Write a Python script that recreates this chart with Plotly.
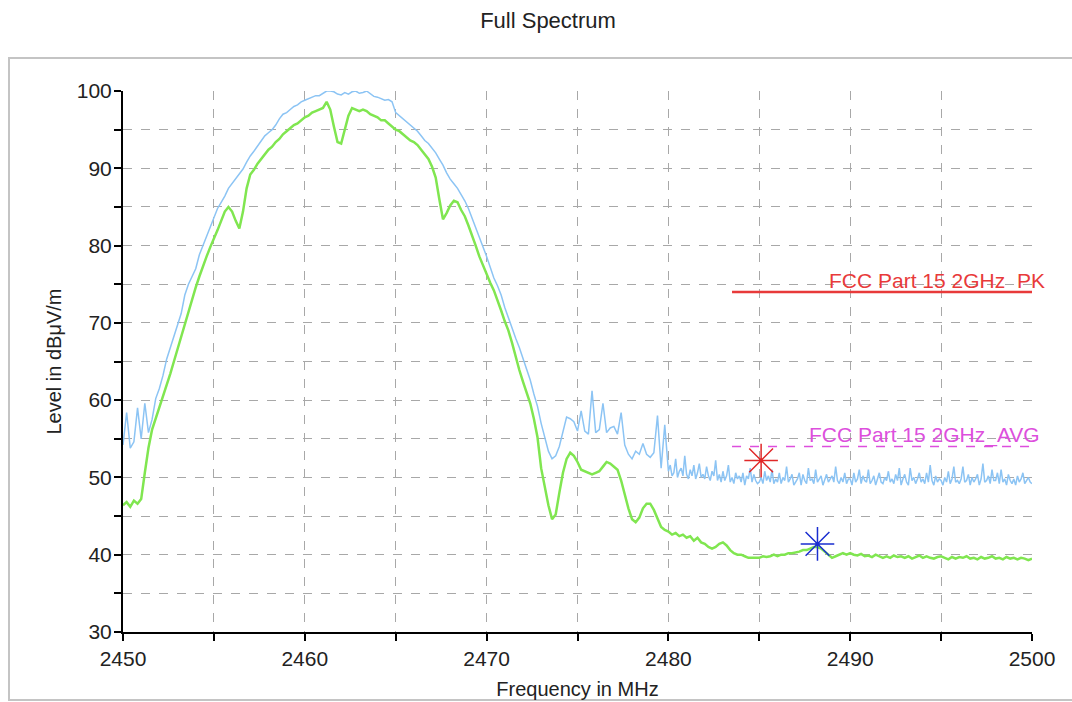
import numpy as np
import plotly.graph_objects as go

# ---------------- data ----------------
# peak trace (light blue), 0.2 MHz steps from 2450.0 to 2479.8 (rows = 1 MHz)
peak_level_main = [
    54.2, 58.4, 53.8, 54.6, 59.0,   # 2450
    55.0, 59.6, 55.8, 57.5, 60.2,   # 2451
    61.5, 63.2, 65.3, 66.8, 68.2,   # 2452
    69.8, 71.2, 73.6, 75.0, 76.0,   # 2453
    77.0, 78.8, 80.0, 81.4, 82.6,   # 2454
    83.8, 84.8, 85.6, 86.4, 87.4,   # 2455
    88.0, 88.6, 89.2, 89.9, 90.8,   # 2456
    91.6, 92.2, 92.9, 93.6, 94.2,   # 2457
    94.6, 95.0, 95.6, 96.4, 97.0,   # 2458
    97.2, 97.6, 98.0, 98.2, 98.6,   # 2459
    98.8, 99.0, 99.2, 99.4, 99.4,   # 2460
    99.7, 100.0, 100.0, 99.9, 99.6, # 2461
    99.5, 99.8, 99.6, 99.9, 100.0,  # 2462
    99.7, 99.8, 100.0, 99.6, 99.3,  # 2463
    99.2, 99.0, 98.8, 98.9, 98.6,   # 2464
    97.2, 96.8, 96.4, 96.0, 95.6,   # 2465
    95.2, 94.8, 94.2, 93.6, 93.2,   # 2466
    92.6, 92.0, 91.2, 90.4, 89.4,   # 2467
    88.6, 88.0, 87.4, 86.6, 85.8,   # 2468
    84.8, 83.6, 82.4, 81.2, 79.8,   # 2469
    78.6, 77.2, 75.8, 74.8, 73.6,   # 2470
    72.0, 70.6, 69.2, 68.0, 66.8,   # 2471
    65.4, 64.2, 62.6, 60.8, 59.2,   # 2472
    57.0, 55.0, 53.4, 52.4, 52.8,   # 2473
    54.0, 56.0, 57.8, 57.6, 57.2,   # 2474
    56.0, 58.6, 56.0, 55.6, 61.2,   # 2475
    55.8, 56.2, 59.6, 55.8, 56.4,   # 2476
    56.6, 55.6, 58.4, 54.2, 53.0,   # 2477
    52.4, 53.4, 53.0, 54.4, 53.0,   # 2478
    52.6, 53.2, 58.0, 51.2, 56.8,   # 2479
]
# peak trace tail, 0.1 MHz steps from 2480.0 to 2500.0 (rows = 1 MHz)
peak_level_tail = [
    50.8, 51.6, 50.2, 50.6, 52.4, 50.0, 50.8, 51.2, 50.2, 52.8,   # 2480
    50.4, 49.8, 51.0, 50.2, 51.6, 49.8, 50.6, 51.8, 50.0, 50.4,   # 2481
    49.8, 51.4, 50.2, 49.6, 50.8, 50.2, 52.2, 49.6, 50.4, 49.4,   # 2482
    50.8, 49.6, 50.2, 51.6, 49.4, 50.0, 49.2, 50.6, 49.8, 50.2,   # 2483
    49.4, 50.6, 49.0, 50.2, 49.8, 51.2, 49.4, 50.4, 49.6, 49.2,   # 2484
    49.4, 50.0, 49.2, 50.8, 49.6, 50.2, 49.4, 51.0, 49.2, 49.8,   # 2485
    49.4, 50.6, 49.2, 50.0, 49.6, 51.4, 49.4, 49.8, 50.4, 49.0,   # 2486
    49.4, 49.8, 50.6, 49.0, 50.4, 49.6, 49.2, 51.2, 49.6, 49.8,   # 2487
    49.2, 51.0, 49.4, 49.8, 50.2, 49.0, 49.6, 50.4, 49.4, 49.8,   # 2488
    50.2, 49.4, 51.4, 49.6, 49.2, 50.0, 49.4, 50.6, 49.2, 49.8,   # 2489
    49.8, 49.0, 50.6, 49.4, 49.8, 51.0, 49.2, 50.2, 49.6, 49.4,   # 2490
    51.0, 49.2, 49.6, 50.2, 49.0, 49.8, 50.6, 49.4, 49.2, 50.0,   # 2491
    49.6, 50.8, 49.4, 49.8, 49.2, 50.4, 49.6, 51.2, 49.0, 49.8,   # 2492
    50.4, 49.4, 49.0, 51.2, 49.6, 50.0, 49.2, 49.8, 50.6, 49.4,   # 2493
    49.8, 49.2, 50.6, 49.4, 51.6, 49.6, 49.0, 50.2, 49.4, 49.8,   # 2494
    49.6, 49.0, 50.0, 49.4, 50.8, 49.2, 49.8, 51.4, 49.4, 49.6,   # 2495
    49.2, 49.8, 51.4, 49.4, 49.6, 50.4, 49.0, 50.0, 49.4, 49.8,   # 2496
    50.4, 49.0, 49.8, 51.8, 49.4, 49.6, 50.2, 49.2, 51.0, 49.6,   # 2497
    49.6, 50.6, 49.2, 51.0, 49.4, 49.8, 49.0, 50.4, 49.6, 49.2,   # 2498
    49.8, 49.0, 50.2, 49.4, 49.8, 50.6, 49.2, 49.6, 50.0, 49.4,   # 2499
    49.2,                                                         # 2500
]

# average trace (green), 0.2 MHz steps from 2450.0 to 2500.0
avg_level = [
    46.4, 46.8, 46.2, 47.0, 46.6,   # 2450
    47.2, 50.6, 53.8, 56.2, 57.6,   # 2451
    59.0, 60.4, 62.0, 63.4, 65.0,   # 2452
    66.6, 68.2, 70.0, 71.4, 73.0,   # 2453
    74.6, 76.0, 77.4, 78.6, 79.8,   # 2454
    80.8, 82.0, 83.2, 84.4, 85.0,   # 2455
    84.4, 83.2, 82.2, 84.4, 87.4,   # 2456
    89.2, 89.8, 90.6, 91.2, 91.8,   # 2457
    92.4, 92.8, 93.4, 93.8, 94.4,   # 2458
    94.8, 95.2, 95.6, 95.8, 96.2,   # 2459
    96.6, 96.8, 97.2, 97.4, 97.6,   # 2460
    97.8, 98.6, 97.6, 95.4, 93.4,   # 2461
    93.2, 95.0, 96.8, 97.8, 97.6,   # 2462
    97.4, 97.6, 97.4, 97.0, 96.8,   # 2463
    96.6, 96.2, 96.2, 95.8, 95.4,   # 2464
    95.0, 94.8, 94.4, 94.0, 93.6,   # 2465
    93.4, 93.0, 92.4, 91.8, 91.2,   # 2466
    90.2, 88.8, 86.0, 83.4, 84.2,   # 2467
    85.2, 85.8, 85.6, 84.6, 83.8,   # 2468
    82.6, 81.4, 80.0, 78.6, 77.4,   # 2469
    76.2, 75.2, 74.2, 73.0, 71.6,   # 2470
    70.2, 69.0, 67.4, 65.6, 63.9,   # 2471
    62.4, 61.0, 59.6, 57.6, 55.2,   # 2472
    51.2, 48.6, 46.4, 44.6, 45.2,   # 2473
    48.0, 50.6, 52.4, 53.2, 52.8,   # 2474
    52.0, 51.0, 50.8, 50.6, 50.4,   # 2475
    50.6, 50.8, 51.4, 52.0, 51.8,   # 2476
    51.4, 51.0, 49.6, 47.8, 46.0,   # 2477
    44.6, 44.2, 44.8, 46.0, 46.6,   # 2478
    46.6, 45.8, 44.6, 43.6, 43.2,   # 2479
    43.0, 42.6, 42.8, 42.4, 42.6,   # 2480
    42.2, 42.4, 41.8, 42.2, 41.6,   # 2481
    41.4, 41.0, 40.8, 41.0, 41.4,   # 2482
    41.6, 41.2, 40.6, 40.2, 40.0,   # 2483
    40.0, 39.8, 39.6, 39.6, 39.6,   # 2484
    39.6, 39.8, 39.7, 39.8, 40.0,   # 2485
    39.8, 40.0, 40.0, 40.2, 40.2,   # 2486
    40.3, 40.4, 40.6, 40.6, 40.8,   # 2487
    41.0, 41.0, 40.8, 40.4, 40.0,   # 2488
    39.6, 39.8, 40.0, 40.2, 40.0,   # 2489
    40.2, 40.0, 39.9, 40.1, 39.8,   # 2490
    39.9, 39.7, 40.0, 39.8, 39.6,   # 2491
    39.8, 39.6, 39.9, 39.7, 39.8,   # 2492
    39.6, 39.8, 39.5, 39.7, 39.9,   # 2493
    39.6, 39.8, 39.6, 39.5, 39.7,   # 2494
    39.8, 39.6, 39.4, 39.7, 39.5,   # 2495
    39.7, 39.6, 39.8, 39.5, 39.6,   # 2496
    39.4, 39.7, 39.5, 39.6, 39.8,   # 2497
    39.5, 39.6, 39.4, 39.7, 39.5,   # 2498
    39.6, 39.4, 39.6, 39.5, 39.3,   # 2499
    39.5,                           # 2500
]

freq_start, freq_tail, freq_stop = 2450.0, 2480.0, 2500.0
freq_peak = np.concatenate([
    np.linspace(freq_start, freq_tail - 0.2, len(peak_level_main)),
    np.linspace(freq_tail, freq_stop, len(peak_level_tail)),
])
peak_level = peak_level_main + peak_level_tail
freq_avg = np.linspace(freq_start, freq_stop, len(avg_level))

# limit lines
limit_freq = [2483.5, 2500.0]
limit_pk = [74.0, 74.0]
limit_avg = [54.0, 54.0]
limit_pk_name = "FCC Part 15 2GHz_PK"
limit_avg_name = "FCC Part 15 2GHz_AVG"

# markers
peak_marker_f = [2485.1]
peak_marker_l = [52.2]
avg_marker_f = [2488.2]
avg_marker_l = [41.4]

# axes
x_ticks = [2450, 2455, 2460, 2465, 2470, 2475, 2480, 2485, 2490, 2495, 2500]
x_ticktext = ["2450", "", "2460", "", "2470", "", "2480", "", "2490", "", "2500"]
y_ticks = [30, 35, 40, 45, 50, 55, 60, 65, 70, 75, 80, 85, 90, 95, 100]
y_ticktext = ["30", "", "40", "", "50", "", "60", "", "70", "", "80", "", "90", "", "100"]

# ---------------- figure ----------------
FONT = "Liberation Sans, Arial, sans-serif"
RED = "#e02828"
BLUE = "#1a2ed0"
MAG = "#dd4fdd"
fig = go.Figure()

fig.add_trace(go.Scatter(x=freq_peak, y=peak_level, mode="lines",
                         line=dict(color="#8cc4f4", width=1.5)))
fig.add_trace(go.Scatter(x=freq_avg, y=avg_level, mode="lines",
                         line=dict(color="#80e650", width=2.5)))
fig.add_trace(go.Scatter(x=limit_freq, y=limit_pk, mode="lines",
                         line=dict(color="#e83a3a", width=2.5)))
fig.add_trace(go.Scatter(x=limit_freq, y=limit_avg, mode="lines",
                         line=dict(color=MAG, width=1.5, dash="dash")))
fig.add_trace(go.Scatter(x=peak_marker_f, y=peak_marker_l, mode="markers",
                         marker=dict(symbol="asterisk-open", size=28, color=RED,
                                     line=dict(color=RED, width=1.5)),
                         cliponaxis=False))
fig.add_trace(go.Scatter(x=avg_marker_f, y=avg_marker_l, mode="markers",
                         marker=dict(symbol="asterisk-open", size=28, color=BLUE,
                                     line=dict(color=BLUE, width=1.5)),
                         cliponaxis=False))
fig.add_trace(go.Scatter(x=avg_marker_f + peak_marker_f,
                         y=avg_marker_l + peak_marker_l, mode="markers",
                         marker=dict(symbol="circle", size=4, color=[BLUE, RED],
                                     line=dict(width=0)),
                         cliponaxis=False))

fig.add_annotation(x=limit_freq[1], y=limit_pk[0], xref="x", yref="y",
                   text=limit_pk_name, showarrow=False, xanchor="right",
                   yanchor="bottom", xshift=15, yshift=-3,
                   font=dict(family=FONT, size=21, color="#e83a3a"))
fig.add_annotation(x=limit_freq[1], y=limit_avg[0], xref="x", yref="y",
                   text=limit_avg_name, showarrow=False, xanchor="right",
                   yanchor="bottom", xshift=10, yshift=-2,
                   font=dict(family=FONT, size=21, color=MAG))

# layout geometry (body margin removed via post_script)
ml, mr, mt, mb = 123, 40, 91, 70
W, H = 1072, 702
pw, ph = W - ml - mr, H - mt - mb
fx0 = (9 - ml) / pw
fx1 = (W + 40 - ml) / pw
fy0 = (H - mb - 700) / ph
fy1 = (H - mb - 58) / ph
fig.add_shape(type="path", xref="paper", yref="paper",
              path=f"M {fx1},{fy1} L {fx0},{fy1} L {fx0},{fy0} L {fx1},{fy0}",
              line=dict(color="#c4c4c4", width=2), layer="below")

axis_common = dict(showline=True, linecolor="black", linewidth=2,
                   ticks="outside", ticklen=7, tickwidth=2, tickcolor="black",
                   showgrid=True, gridcolor="#a8a8a8", gridwidth=1, griddash="dash",
                   zeroline=False, mirror=False, automargin=False,
                   tickfont=dict(family=FONT, size=21, color="#222222"))

fig.update_xaxes(range=[freq_start, freq_stop], tickmode="array",
                 tickvals=x_ticks, ticktext=x_ticktext, ticklabelstandoff=0,
                 title=dict(text="Frequency in MHz", standoff=13,
                            font=dict(family=FONT, size=20, color="#222222")),
                 **axis_common)
fig.update_yaxes(range=[30, 100], tickmode="array",
                 tickvals=y_ticks, ticktext=y_ticktext, ticklabelstandoff=-2,
                 title=dict(text="Level in dBμV/m", standoff=10,
                            font=dict(family=FONT, size=20, color="#222222")),
                 **axis_common)

fig.update_layout(
    width=W, height=H,
    margin=dict(l=ml, r=mr, t=mt, b=mb, autoexpand=False),
    paper_bgcolor="white", plot_bgcolor="white",
    showlegend=False,
    title=dict(text="Full Spectrum", x=548 / W, xanchor="center",
               y=1 - 20 / H, yanchor="middle", xref="container", yref="container",
               font=dict(family=FONT, size=22, color="#222222")),
)

fig.write_html("out.html",
               config={"displayModeBar": False},
               post_script="document.body.style.margin='0px';"
                           "document.body.style.overflow='hidden';")
